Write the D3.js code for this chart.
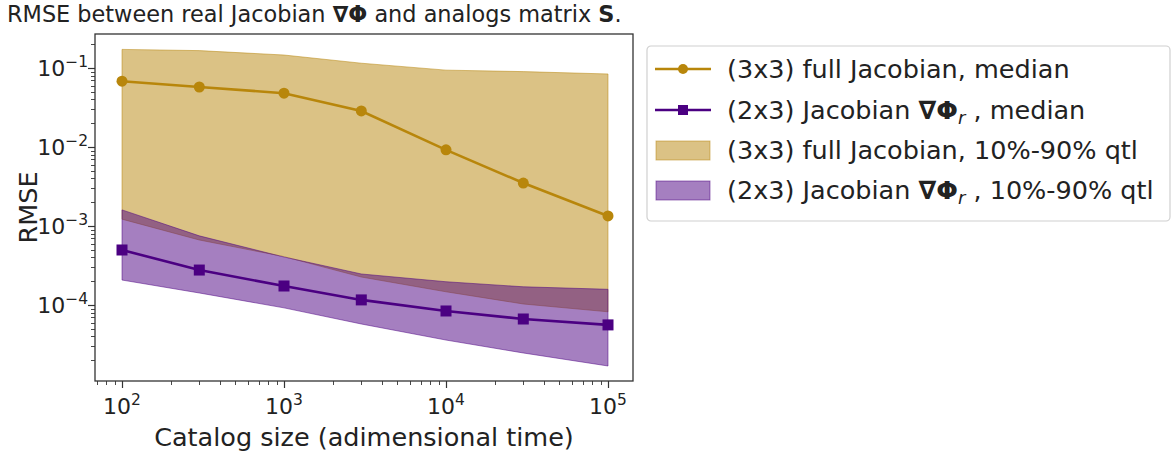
<!DOCTYPE html>
<html>
<head>
<meta charset="utf-8">
<script src="https://cdnjs.cloudflare.com/ajax/libs/d3/7.8.5/d3.min.js"></script>
<style>
body{margin:0;background:#fff;}
svg{font-family:"DejaVu Sans",sans-serif;}
</style>
</head>
<body>
<svg id="chart" width="1176" height="456"></svg>
<script>
// catalog sizes (x) and RMSE values
var catalogSizes=[1e2,3e2,1e3,3e3,1e4,3e4,1e5];
var fullMedian=[0.068,0.0575,0.048,0.0286,0.0092,0.0035,0.00134];
var fullQ10=[1.22e-3,6.65e-4,4.1e-4,2.26e-4,1.47e-4,1.03e-4,8.2e-5];
var fullQ90=[0.172,0.166,0.146,0.115,0.094,0.090,0.084];
var redMedian=[4.97e-4,2.77e-4,1.74e-4,1.16e-4,8.4e-5,6.65e-5,5.6e-5];
var redQ10=[2.07e-4,1.42e-4,9.2e-5,5.75e-5,3.6e-5,2.47e-5,1.69e-5];
var redQ90=[1.6e-3,7.5e-4,4.05e-4,2.47e-4,1.97e-4,1.7e-4,1.58e-4];
var xTicks=[1e2,1e3,1e4,1e5];
var yTicks=[1e-4,1e-3,1e-2,1e-1];

var gold="#b8860b", indigo="#4b0082";
var box={left:95,right:633,top:34,bottom:381};

var svg=d3.select("#chart");

var x=d3.scaleLog()
	.domain([Math.pow(10,1.8333),Math.pow(10,5.1543)])
	.range([box.left,box.right]);
var y=d3.scaleLog()
	.domain([Math.pow(10,-4.962),Math.pow(10,-0.5696)])
	.range([box.bottom,box.top]);

// title
var title=svg.append("text").attr("x",7).attr("y",22).style("font-size","22.4px").attr("fill","#222");
title.append("tspan").text("RMSE between real Jacobian ");
title.append("tspan").attr("font-weight","bold").text("∇Φ");
title.append("tspan").text(" and analogs matrix ");
title.append("tspan").attr("font-weight","bold").text("S");
title.append("tspan").text(".");

// bands
var area=function(lo,hi){
	return d3.area()
		.x(function(d,i){return x(catalogSizes[i]);})
		.y0(function(d,i){return y(lo[i]);})
		.y1(function(d,i){return y(hi[i]);});
};
var plot=svg.append("g");
plot.append("path").datum(catalogSizes)
	.attr("d",area(fullQ10,fullQ90))
	.attr("fill",gold).attr("fill-opacity",0.5)
	.attr("stroke",gold).attr("stroke-opacity",0.5).attr("stroke-width",1);
plot.append("path").datum(catalogSizes)
	.attr("d",area(redQ10,redQ90))
	.attr("fill",indigo).attr("fill-opacity",0.5)
	.attr("stroke",indigo).attr("stroke-opacity",0.5).attr("stroke-width",1);

// median lines
var line=function(vals){
	return d3.line()
		.x(function(d,i){return x(catalogSizes[i]);})
		.y(function(d,i){return y(vals[i]);});
};
plot.append("path").datum(catalogSizes).attr("d",line(fullMedian))
	.attr("fill","none").attr("stroke",gold).attr("stroke-width",2.6);
plot.selectAll(".dot").data(fullMedian).enter().append("circle")
	.attr("cx",function(d,i){return x(catalogSizes[i]);})
	.attr("cy",function(d){return y(d);})
	.attr("r",5.5).attr("fill",gold);
plot.append("path").datum(catalogSizes).attr("d",line(redMedian))
	.attr("fill","none").attr("stroke",indigo).attr("stroke-width",2.6);
plot.selectAll(".sq").data(redMedian).enter().append("rect")
	.attr("x",function(d,i){return x(catalogSizes[i])-5.5;})
	.attr("y",function(d){return y(d)-5.5;})
	.attr("width",11).attr("height",11).attr("fill",indigo);

// minor ticks
var minorX=[],minorY=[];
for(var e=1;e<=5;e++){for(var m=2;m<=9;m++){var v=m*Math.pow(10,e);if(v>x.domain()[0]&&v<x.domain()[1])minorX.push(v);}}
for(var e2=-6;e2<=0;e2++){for(var m2=2;m2<=9;m2++){var w=m2*Math.pow(10,e2);if(w>y.domain()[0]&&w<y.domain()[1])minorY.push(w);}}
var ticks=svg.append("g").attr("stroke","#333").attr("stroke-width",0.9);
ticks.selectAll(".mx").data(minorX).enter().append("line")
	.attr("x1",function(d){return Math.round(x(d))+0.5;}).attr("x2",function(d){return Math.round(x(d))+0.5;})
	.attr("y1",box.bottom).attr("y2",box.bottom+4);
ticks.selectAll(".my").data(minorY).enter().append("line")
	.attr("y1",function(d){return Math.round(y(d))+0.5;}).attr("y2",function(d){return Math.round(y(d))+0.5;})
	.attr("x1",box.left).attr("x2",box.left-4);
ticks.selectAll(".Mx").data(xTicks).enter().append("line")
	.attr("x1",function(d){return Math.round(x(d))+0.5;}).attr("x2",function(d){return Math.round(x(d))+0.5;})
	.attr("y1",box.bottom).attr("y2",box.bottom+7).attr("stroke-width",1.2);
ticks.selectAll(".My").data(yTicks).enter().append("line")
	.attr("y1",function(d){return Math.round(y(d))+0.5;}).attr("y2",function(d){return Math.round(y(d))+0.5;})
	.attr("x1",box.left).attr("x2",box.left-7).attr("stroke-width",1.2);

// tick labels as 10^n
var expo=function(d){var n=Math.round(Math.log10(d));return n<0?"\u2212"+(-n):""+n;};
var xl=svg.append("g").style("font-size","22px").attr("fill","#222");
xl.selectAll("text").data(xTicks).enter().append("text")
	.attr("x",function(d){return x(d);}).attr("y",414).attr("text-anchor","middle")
	.each(function(d){
		var t=d3.select(this);
		t.append("tspan").text("10");
		t.append("tspan").attr("dy",-9).style("font-size","15.5px").text(expo(d));
	});
var yl=svg.append("g").style("font-size","22px").attr("fill","#222");
yl.selectAll("text").data(yTicks).enter().append("text")
	.attr("x",88).attr("y",function(d){return y(d)+8;}).attr("text-anchor","end")
	.each(function(d){
		var t=d3.select(this);
		t.append("tspan").text("10");
		t.append("tspan").attr("dy",-9).style("font-size","15.5px").text(expo(d));
	});

// frame
svg.append("rect").attr("x",box.left).attr("y",box.top)
	.attr("width",box.right-box.left).attr("height",box.bottom-box.top)
	.attr("fill","none").attr("stroke","#333").attr("stroke-width",1.3);

// axis labels
svg.append("text").attr("x",(box.left+box.right)/2).attr("y",446)
	.attr("text-anchor","middle").style("font-size","25.5px").attr("fill","#222")
	.text("Catalog size (adimensional time)");
svg.append("text").attr("transform","translate(37,"+(box.top+box.bottom)/2+") rotate(-90)")
	.attr("text-anchor","middle").style("font-size","25.5px").attr("fill","#222")
	.text("RMSE");

// legend
var lg=svg.append("g").attr("transform","translate(647,46)");
lg.append("rect").attr("width",523).attr("height",175).attr("rx",4)
	.attr("fill","#fff").attr("fill-opacity",0.8).attr("stroke","#d0d0d0").attr("stroke-width",1.2);
var rows=[
	{y:23,kind:"line",color:gold,mark:"circle",parts:[["(3x3) full Jacobian, median"]]},
	{y:64,kind:"line",color:indigo,mark:"square",parts:[["(2x3) Jacobian "],["∇Φ","bold"],["r","sub"],[" , median"]]},
	{y:104,kind:"patch",color:gold,parts:[["(3x3) full Jacobian, 10%-90% qtl"]]},
	{y:144,kind:"patch",color:indigo,parts:[["(2x3) Jacobian "],["∇Φ","bold"],["r","sub"],[" , 10%-90% qtl"]]}
];
rows.forEach(function(r){
	if(r.kind=="line"){
		lg.append("line").attr("x1",8).attr("x2",64).attr("y1",r.y).attr("y2",r.y)
			.attr("stroke",r.color).attr("stroke-width",2.6);
		if(r.mark=="circle")lg.append("circle").attr("cx",36).attr("cy",r.y).attr("r",5).attr("fill",r.color);
		else lg.append("rect").attr("x",31).attr("y",r.y-5).attr("width",10).attr("height",10).attr("fill",r.color);
	}else{
		lg.append("rect").attr("x",9).attr("y",r.y-9).attr("width",54).attr("height",19)
			.attr("fill",r.color).attr("fill-opacity",0.5)
			.attr("stroke",r.color).attr("stroke-opacity",0.5);
	}
	var t=lg.append("text").attr("x",80).attr("y",r.y+9).style("font-size","25.5px").attr("fill","#222");
	r.parts.forEach(function(p){
		var s=t.append("tspan").text(p[0]);
		if(p[1]=="bold")s.attr("font-weight","bold");
		if(p[1]=="sub")s.attr("font-style","italic").style("font-size","18px").attr("dy",5);
		if(p[0].charAt(0)==" "&&r.parts.length>1)s.attr("dy",-5);
	});
});
</script>
</body>
</html>
